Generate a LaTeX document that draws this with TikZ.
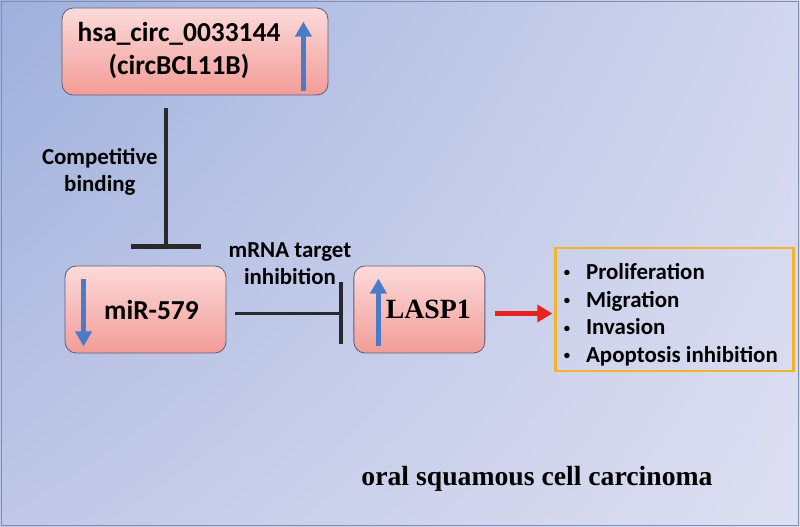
\documentclass[tikz,border=0pt]{standalone}
\usepackage{fontspec}
\setmainfont{Carlito}
\newfontfamily\timesfont{Liberation Serif}
\usetikzlibrary{arrows.meta,positioning,shadings}

\definecolor{bgtl}{HTML}{9EB0DC}
\definecolor{bgtr}{HTML}{D2D6EE}
\definecolor{bgbl}{HTML}{C0C7E7}
\definecolor{bgbr}{HTML}{DDDFF1}
\definecolor{pinktop}{HTML}{FCDADA}
\definecolor{pinkbot}{HTML}{F29C97}
\definecolor{boxline}{HTML}{5B5F7A}
\definecolor{levelblue}{HTML}{4A7BC6}
\definecolor{inhibgray}{HTML}{2A2A2E}
\definecolor{effectred}{HTML}{E52421}
\definecolor{fxgold}{HTML}{F2B42A}

\newcommand{\fxdot}{\raisebox{0.12em}{\small\textbullet}}

\begin{document}
\begin{tikzpicture}[
node distance=3.175cm,
gene/.style={draw=boxline, line width=0.6pt, rounded corners=0.28cm, top color=pinktop, bottom color=pinkbot, minimum height=2.175cm, inner sep=0pt, font=\bfseries\fontsize{19.5}{23.5}\selectfont},
lbl/.style={align=center, font=\bfseries\fontsize{16.3}{19}\selectfont},
inhib/.style={draw=inhibgray, line width=2.2pt},
level/.style={draw=levelblue, line width=3.5pt, -{Triangle[length=0.375cm, width=0.4cm]}},
effect/.style={draw=effectred, line width=3pt, -{Triangle[length=0.375cm, width=0.425cm]}},
fxbox/.style={draw=fxgold, line width=2.1pt, minimum width=5.95cm, minimum height=3.075cm, inner sep=0pt, font=\bfseries\fontsize{16.3}{19.6}\selectfont}
]
% background
\useasboundingbox (0,0) rectangle (20,13.175);
\shade[upper left=bgtl, upper right=bgtr, lower left=bgbl, lower right=bgbr] (0,0) rectangle (20,13.175);
\draw[draw=bgtl!80!black, line width=0.8pt] (0.03,0.03) rectangle (19.97,13.145);

% genes
\node[gene, minimum width=6.65cm] (circ) at (4.875,11.8875) {\begin{tabular}{@{}c@{}}hsa\_circ\_0033144\\(circBCL11B)\end{tabular}\rule{0.8cm}{0pt}};
\node[gene, minimum width=4.025cm] (mir) at (3.6375,5.4375) {\hspace{0.3cm}miR-579};
\node[gene, minimum width=3.275cm, right=of mir, font=\timesfont\bfseries\fontsize{19.8}{24}\selectfont] (lasp) {\hspace{0.45cm}LASP1};
\node[fxbox, right=1.725cm of lasp] (fx) {\raisebox{0pt}[\dimexpr\height+0.3cm\relax][\depth]{\begin{tabular}{@{}l@{\hspace{0.4cm}}l@{}}
\fxdot & Proliferation\\
\fxdot & Migration\\
\fxdot & Invasion\\
\fxdot & Apoptosis inhibition
\end{tabular}}\rule{0.2cm}{0pt}};
\node[font=\timesfont\bfseries\fontsize{19.7}{24}\selectfont] (osc) at (13.425,1.2) {oral squamous cell carcinoma};

% up/down levels
\draw[level] ([xshift=-0.625cm,yshift=0.1cm]circ.south east) -- ([xshift=-0.625cm,yshift=-0.35cm]circ.north east);
\draw[level] ([xshift=0.475cm,yshift=-0.325cm]mir.north west) -- ([xshift=0.475cm,yshift=0.175cm]mir.south west);
\draw[level] ([xshift=0.625cm,yshift=0.175cm]lasp.south west) -- ([xshift=0.625cm,yshift=-0.325cm]lasp.north west);

% interactions
\coordinate (cb) at (4.15,0);
\draw[inhib, -{Bar[width=1.75cm, line width=3pt]}, shorten <=0.325cm, shorten >=0.425cm] (circ.south -| cb) -- (mir.north -| cb)
  node[pos=0.45, left=0.05cm, lbl] {Competitive\\binding};
\draw[inhib, -{Bar[width=1.55cm, line width=3pt]}, shorten <=0.225cm, shorten >=0.25cm] ([yshift=-0.1cm]mir.east) -- ([yshift=-0.1cm]lasp.west)
  node[midway, above=0.56cm, lbl] {mRNA target\\inhibition};
\draw[effect, shorten <=0.25cm, shorten >=0.05cm] ([yshift=-0.1cm]lasp.east) -- ([yshift=-0.1cm]lasp.east -| fx.west);
\end{tikzpicture}
\end{document}
